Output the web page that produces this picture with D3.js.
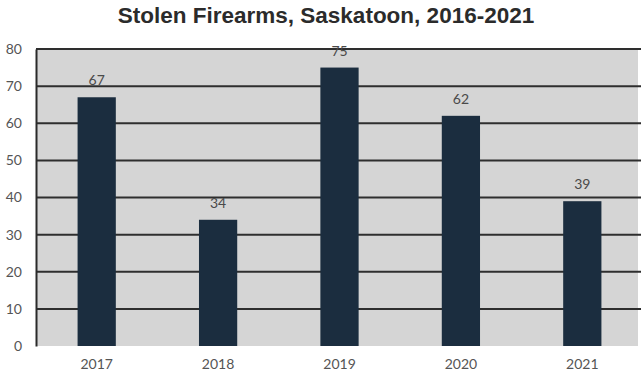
<!DOCTYPE html>
<html>
<head>
<meta charset="utf-8">
<script src="https://cdn.jsdelivr.net/npm/d3@7/dist/d3.min.js"></script>
<style>
  html, body { margin: 0; padding: 0; background: #fff; }
  svg { display: block; }
</style>
</head>
<body>
<svg id="chart" width="641" height="377"></svg>
<script>
// Stolen firearms reported in Saskatoon, by year
const years = ["2017", "2018", "2019", "2020", "2021"];
const stolen = [67, 34, 75, 62, 39];
const yTicks = [0, 10, 20, 30, 40, 50, 60, 70, 80];
const title = "Stolen Firearms, Saskatoon, 2016-2021";

const W = 641, H = 377;
const margin = { top: 49, right: 0, bottom: 31, left: 36 };
const innerW = W - margin.left - margin.right + 2;
const innerH = H - margin.top - margin.bottom;

const svg = d3.select("#chart");

svg.append("text")
  .attr("x", 326)
  .attr("y", 23)
  .attr("text-anchor", "middle")
  .attr("font-family", "'Liberation Sans', Arial, sans-serif")
  .attr("font-weight", "bold")
  .attr("font-size", 22.5)
  .attr("fill", "#2b2b2b")
  .text(title);

const g = svg.append("g").attr("transform", `translate(${margin.left},${margin.top})`);

const x = d3.scaleBand().domain(years).range([0, innerW]).paddingInner(0.685).paddingOuter(0.3425);
const y = d3.scaleLinear().domain([0, 80]).range([innerH, 0]);

// plot background
g.append("rect")
  .attr("x", 0).attr("y", 0)
  .attr("width", innerW - 5).attr("height", innerH)
  .attr("fill", "#d5d5d5");

// horizontal gridlines
g.append("g")
  .selectAll("line")
  .data(yTicks.filter(t => t > 0))
  .join("line")
  .attr("x1", 0).attr("x2", innerW)
  .attr("y1", d => y(d)).attr("y2", d => y(d))
  .attr("stroke", "#2e2e2e")
  .attr("stroke-width", 2);

// bars
g.append("g")
  .selectAll("rect")
  .data(stolen)
  .join("rect")
  .attr("x", (d, i) => x(years[i]))
  .attr("y", d => y(d))
  .attr("width", x.bandwidth())
  .attr("height", d => innerH - y(d))
  .attr("fill", "#1b2d3f");

// value labels
g.append("g")
  .selectAll("text")
  .data(stolen)
  .join("text")
  .attr("x", (d, i) => x(years[i]) + x.bandwidth() / 2)
  .attr("y", d => y(d) - 12)
  .attr("text-anchor", "middle")
  .attr("font-family", "Lato, 'Open Sans', sans-serif")
  .attr("font-size", 14)
  .attr("fill", "#4a4a4a")
  .text(d => d);

// axes
const yAxis = d3.axisLeft(y).tickValues(yTicks).tickSize(0).tickPadding(14);
const yG = g.append("g").call(yAxis);
yG.select(".domain").attr("stroke", "#2a2a2a").attr("stroke-width", 2);
yG.selectAll("text")
  .attr("font-family", "Lato, 'Open Sans', sans-serif")
  .attr("font-size", 14)
  .attr("fill", "#555");

const xAxis = d3.axisBottom(x).tickSize(0).tickPadding(13);
const xG = g.append("g").attr("transform", `translate(0,${innerH})`).call(xAxis);
xG.select(".domain").remove();
xG.selectAll("text")
  .attr("font-family", "Lato, 'Open Sans', sans-serif")
  .attr("font-size", 14)
  .attr("fill", "#555");
</script>
</body>
</html>
